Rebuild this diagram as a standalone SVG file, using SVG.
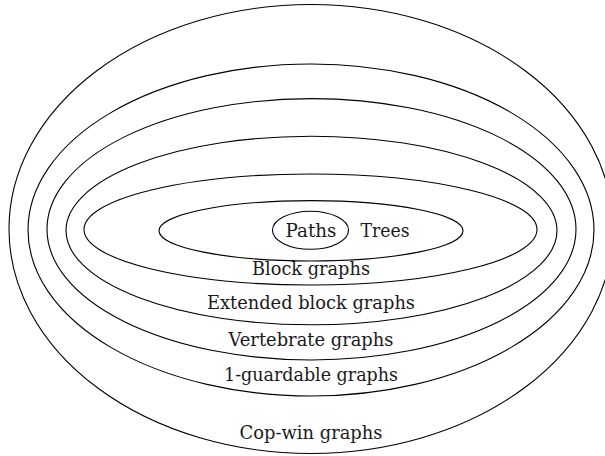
<svg xmlns="http://www.w3.org/2000/svg" width="605" height="456" viewBox="0 0 605 456">
  <style>
    .set { fill: none; stroke: #000; stroke-width: 1.1; }
    .lbl { font-family: "DejaVu Serif", serif; font-size: 19px; fill: #1a1a1a; text-anchor: middle; }
  </style>
  <rect x="0" y="0" width="605" height="456" fill="#fff"/>
  <g id="copwin">
    <ellipse class="set" cx="311" cy="229" rx="302" ry="224.5"/>
    <text class="lbl" x="311" y="439" textLength="143" lengthAdjust="spacingAndGlyphs">Cop-win graphs</text>
  </g>
  <g id="guardable">
    <ellipse class="set" cx="311" cy="230" rx="283" ry="166"/>
    <text class="lbl" x="311" y="381" textLength="174" lengthAdjust="spacingAndGlyphs">1-guardable graphs</text>
  </g>
  <g id="vertebrate">
    <ellipse class="set" cx="311.5" cy="229.3" rx="264.5" ry="130.7"/>
    <text class="lbl" x="311" y="346" textLength="165" lengthAdjust="spacingAndGlyphs">Vertebrate graphs</text>
  </g>
  <g id="extended">
    <ellipse class="set" cx="311.5" cy="230.5" rx="245.5" ry="94.3"/>
    <text class="lbl" x="311" y="309" textLength="208" lengthAdjust="spacingAndGlyphs">Extended block graphs</text>
  </g>
  <g id="block">
    <ellipse class="set" cx="310.5" cy="229.5" rx="226.5" ry="55.5"/>
    <text class="lbl" x="311" y="275" textLength="118" lengthAdjust="spacingAndGlyphs">Block graphs</text>
  </g>
  <g id="trees">
    <ellipse class="set" cx="311" cy="230.8" rx="152" ry="30.2"/>
    <text class="lbl" x="385" y="237" textLength="49" lengthAdjust="spacingAndGlyphs">Trees</text>
  </g>
  <g id="paths">
    <ellipse class="set" cx="310.5" cy="230.3" rx="38" ry="19"/>
    <text class="lbl" x="311" y="237" textLength="51" lengthAdjust="spacingAndGlyphs">Paths</text>
  </g>
</svg>
